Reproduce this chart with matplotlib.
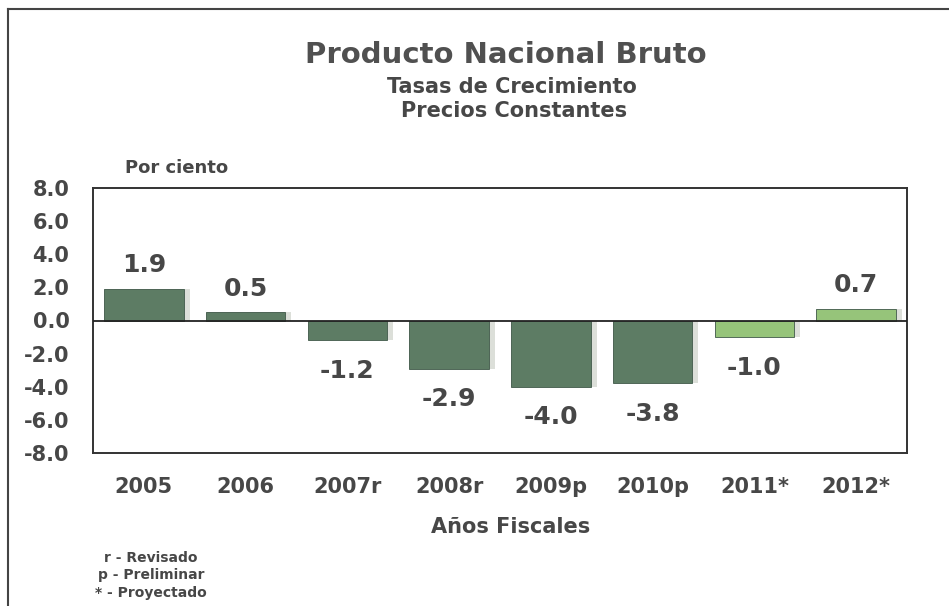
import matplotlib.pyplot as plt
import numpy as np

# Tasas de crecimiento del PNB, precios constantes
years = ["2005", "2006", "2007r", "2008r", "2009p", "2010p", "2011*", "2012*"]
growth = [1.9, 0.5, -1.2, -2.9, -4.0, -3.8, -1.0, 0.7]
projected = [False, False, False, False, False, False, True, True]
yticks = [8, 6, 4, 2, 0, -2, -4, -6, -8]
notes = ["r - Revisado", "p - Preliminar", "* - Proyectado"]

dark_green = "#5d7c64"
light_green = "#96c47a"
txt = "#474747"

plt.rcParams['font.family'] = ['DejaVu Sans']
plt.rcParams['font.weight'] = 'bold'

fig = plt.figure(figsize=(9.49, 6.06), dpi=100)
W, H = 949, 606
ax = fig.add_axes([93 / W, 1 - 453 / H, 814 / W, 265 / H])

x = np.arange(len(years))
colors = [light_green if p else dark_green for p in projected]

# soft shadow behind bars, as in the printed chart
ax.bar(x + 0.03, growth, width=0.84, color="#dcdfd9", zorder=1)
ax.bar(x, growth, width=0.78, color=colors, edgecolor="#41594a",
       linewidth=0.6, zorder=2)
ax.axhline(0, color="#222222", linewidth=1.3, zorder=3)

for xi, v in zip(x, growth):
    off = 17 if v >= 0 else -22
    ax.annotate(f"{v:.1f}", (xi, v), xytext=(0, off), textcoords="offset points",
                ha="center", va="center", fontsize=18, fontweight="bold", color=txt)

ax.set_xlim(-0.5, len(years) - 0.5)
ax.set_ylim(-8, 8)
ax.set_yticks(yticks)
ax.set_yticklabels([f"{t:.1f}" for t in yticks])
ax.set_xticks(x)
ax.set_xticklabels(years)
ax.tick_params(axis="y", length=0, pad=17, labelsize=15, labelcolor=txt)
ax.tick_params(axis="x", length=0, pad=17, labelsize=15, labelcolor=txt)
for s in ax.spines.values():
    s.set_color("#333333")
    s.set_linewidth(1.4)

fig.text(506 / W, 1 - 63 / H, "Producto Nacional Bruto", ha="center", va="baseline",
         fontsize=21, fontweight="bold", color="#505050")
fig.text(512 / W, 1 - 93 / H, "Tasas de Crecimiento", ha="center", va="baseline",
         fontsize=15, fontweight="bold", color=txt)
fig.text(514 / W, 1 - 117 / H, "Precios Constantes", ha="center", va="baseline",
         fontsize=15, fontweight="bold", color=txt)
fig.text(177 / W, 1 - 173 / H, "Por ciento", ha="center", va="baseline",
         fontsize=13, fontweight="bold", color=txt)
fig.text(511 / W, 1 - 533 / H, "Años Fiscales", ha="center", va="baseline",
         fontsize=15, fontweight="bold", color=txt)
for i, n in enumerate(notes):
    fig.text(151 / W, 1 - (562 + 17.5 * i) / H, n, ha="center", va="baseline",
             fontsize=10, fontweight="bold", color=txt)

# scan frame: left and top edges
fig.add_artist(plt.Line2D([8 / W, 8 / W], [0, 1 - 9 / H], color="#444444", lw=1.5))
fig.add_artist(plt.Line2D([8 / W, 1], [1 - 9 / H, 1 - 9 / H], color="#444444", lw=1.5))

fig.savefig("out.png", dpi=100)
